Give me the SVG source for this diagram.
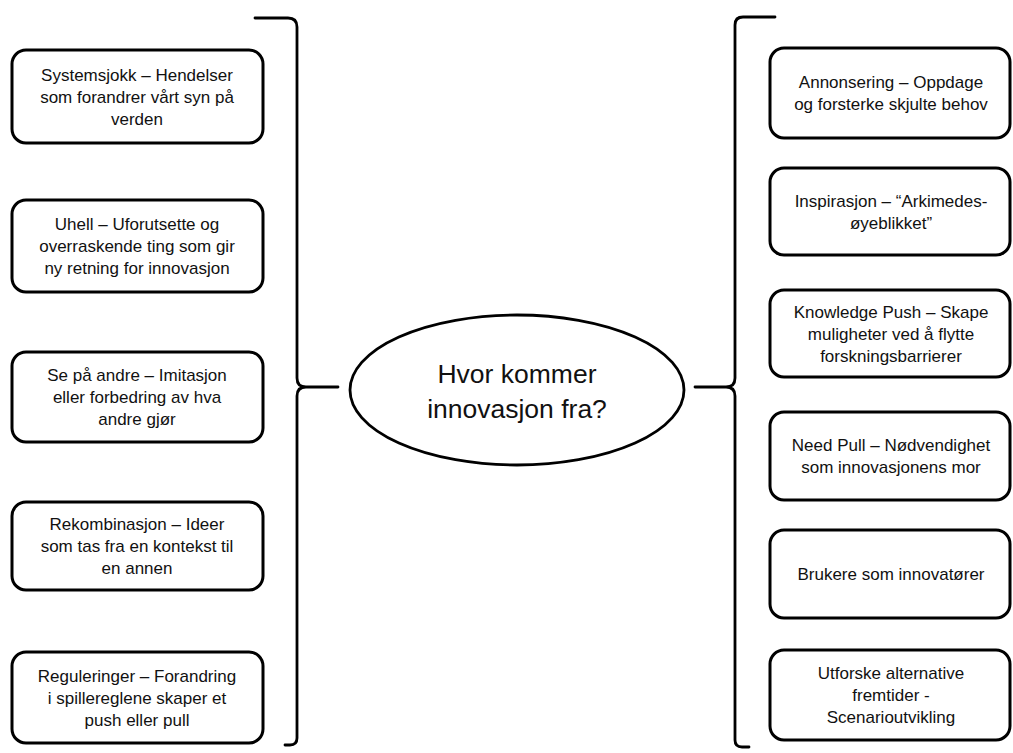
<svg xmlns="http://www.w3.org/2000/svg" width="1013" height="753" viewBox="0 0 1013 753">
<style>
.box{fill:#fff;stroke:#000;stroke-width:3}
.t{font-family:"Liberation Sans",Arial,sans-serif;font-size:17px;fill:#111;text-anchor:middle}
.c{font-family:"Liberation Sans",Arial,sans-serif;font-size:26.5px;fill:#111;text-anchor:middle}
.br{fill:none;stroke:#000;stroke-width:2.8;stroke-linecap:round;stroke-linejoin:round}
</style>
<rect width="1013" height="753" fill="#fff"/>
<g id="connectors">
<path class="br" d="M255,18 H288 Q297,18 297,27 V378 Q297,387 306,387 H338 M306,387 Q297,387 297,396 V738 Q297,745 290,745 H285"/>
<path class="br" d="M775,17 H743 Q735,17 735,25 V378 Q735,387 726,387 H695 M726,387 Q735,387 735,396 V740 Q735,747 742,747 H749"/>
</g>
<g id="center">
<ellipse cx="517" cy="390" rx="167" ry="75" fill="#fff" stroke="#000" stroke-width="2.8"/>
<text class="c" x="517" y="383">Hvor kommer</text>
<text class="c" x="517" y="418">innovasjon fra?</text>
</g>
<g id="l1">
<rect class="box" x="12" y="50" width="251" height="93" rx="14"/>
<text class="t" x="137" y="80.5">Systemsjokk – Hendelser</text>
<text class="t" x="137" y="102.5">som forandrer vårt syn på</text>
<text class="t" x="137" y="124.5">verden</text>
</g>
<g id="l2">
<rect class="box" x="12" y="200" width="251" height="92" rx="14"/>
<text class="t" x="137" y="230">Uhell – Uforutsette og</text>
<text class="t" x="137" y="252">overraskende ting som gir</text>
<text class="t" x="137" y="274">ny retning for innovasjon</text>
</g>
<g id="l3">
<rect class="box" x="12" y="352" width="251" height="90" rx="14"/>
<text class="t" x="137" y="381">Se på andre – Imitasjon</text>
<text class="t" x="137" y="403">eller forbedring av hva</text>
<text class="t" x="137" y="425">andre gjør</text>
</g>
<g id="l4">
<rect class="box" x="12" y="502" width="251" height="88" rx="14"/>
<text class="t" x="137" y="530">Rekombinasjon – Ideer</text>
<text class="t" x="137" y="552">som tas fra en kontekst til</text>
<text class="t" x="137" y="574">en annen</text>
</g>
<g id="l5">
<rect class="box" x="12" y="652" width="251" height="91" rx="14"/>
<text class="t" x="137" y="681.5">Reguleringer – Forandring</text>
<text class="t" x="137" y="703.5">i spillereglene skaper et</text>
<text class="t" x="137" y="725.5">push eller pull</text>
</g>
<g id="r1">
<rect class="box" x="770" y="48" width="240" height="90" rx="14"/>
<text class="t" x="891" y="88">Annonsering – Oppdage</text>
<text class="t" x="891" y="110">og forsterke skjulte behov</text>
</g>
<g id="r2">
<rect class="box" x="770" y="168" width="240" height="87" rx="14"/>
<text class="t" x="891" y="206.5">Inspirasjon – “Arkimedes-</text>
<text class="t" x="891" y="228.5">øyeblikket”</text>
</g>
<g id="r3">
<rect class="box" x="770" y="290" width="240" height="87" rx="14"/>
<text class="t" x="891" y="317.5">Knowledge Push – Skape</text>
<text class="t" x="891" y="339.5">muligheter ved å flytte</text>
<text class="t" x="891" y="361.5">forskningsbarrierer</text>
</g>
<g id="r4">
<rect class="box" x="770" y="412" width="240" height="88" rx="14"/>
<text class="t" x="891" y="451">Need Pull – Nødvendighet</text>
<text class="t" x="891" y="473">som innovasjonens mor</text>
</g>
<g id="r5">
<rect class="box" x="770" y="530" width="240" height="88" rx="14"/>
<text class="t" x="891" y="580">Brukere som innovatører</text>
</g>
<g id="r6">
<rect class="box" x="770" y="650" width="240" height="90" rx="14"/>
<text class="t" x="891" y="679">Utforske alternative</text>
<text class="t" x="891" y="701">fremtider -</text>
<text class="t" x="891" y="723">Scenarioutvikling</text>
</g>
</svg>
